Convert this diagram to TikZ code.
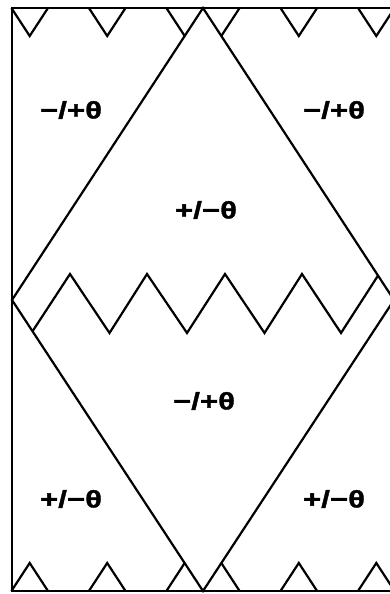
\documentclass[tikz,border=0pt]{standalone}
\usepackage{fontspec}
\newfontfamily\labfamily[FakeStretch=1.3,FakeBold=1.5]{Liberation Sans}
\begin{document}
\begin{tikzpicture}[x=1pt,y=-1pt,
  ln/.style={line width=2.2pt, line join=miter},
  lab/.style={font=\labfamily\bfseries\fontsize{24}{24}\selectfont, inner sep=0pt}]
\useasboundingbox (0,0) rectangle (390,594);
\begin{scope}
\clip (0,0) rectangle (390,594);
\coordinate (T) at (203,8);
\coordinate (L) at (12,300);
\coordinate (B) at (203,591);
\coordinate (R) at (394,300);
% frame
\draw[ln] (12,8) rectangle (398,591);
% diamonds
\draw[ln] (T) -- (L) -- (B) -- (R) -- cycle;
% top zigzag
\draw[ln] (11.4,8) -- (29.7,36) -- (48,8);
\draw[ln] (88.9,8) -- (107.2,36) -- (125.5,8);
\draw[ln] (166.4,8) -- (184.7,36);
\draw[ln] (221.3,36) -- (239.6,8);
\draw[ln] (280.5,8) -- (298.8,36) -- (317.1,8);
\draw[ln] (358,8) -- (376.3,36) -- (394.6,8);
% bottom zigzag
\draw[ln] (11.4,591) -- (29.7,563) -- (48,591);
\draw[ln] (88.9,591) -- (107.2,563) -- (125.5,591);
\draw[ln] (166.4,591) -- (184.7,563);
\draw[ln] (221.3,563) -- (239.6,591);
\draw[ln] (280.5,591) -- (298.8,563) -- (317.1,591);
\draw[ln] (358,591) -- (376.3,563) -- (394.6,591);
% middle zigzag
\draw[ln] (32.5,331.3) -- (70,274) -- (109.5,333) -- (147,274) -- (187,333)
  -- (225,274) -- (264.5,333) -- (302,274) -- (341,333) -- (378,275.6);
\end{scope}
% labels
\node[lab] (ul) at (71,110) {−/+θ};
\node[lab] (ur) at (334,110) {−/+θ};
\node[lab] (uc) at (206,210) {+/−θ};
\node[lab] (lc) at (204,401) {−/+θ};
\node[lab] (ll) at (71,499) {+/−θ};
\node[lab] (lr) at (334,499) {+/−θ};
\end{tikzpicture}
\end{document}
